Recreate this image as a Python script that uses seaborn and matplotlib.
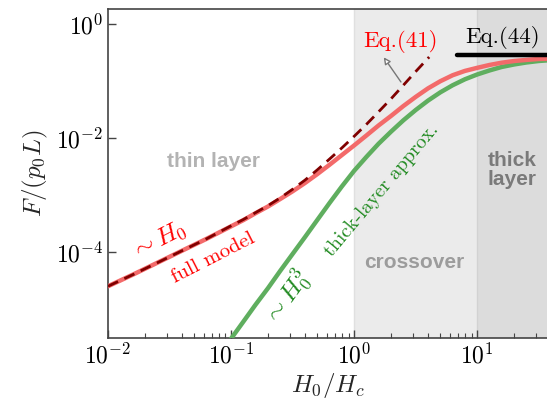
import matplotlib
import numpy as np
import pandas as pd
import seaborn as sns

matplotlib.use('Agg')
import matplotlib.pyplot as plt
from matplotlib import ticker

# --------------------------------------------------------------------
# values

h_full = [0.01, 0.0158, 0.0251, 0.0398, 0.0631,
          0.1, 0.126, 0.158, 0.2, 0.251, 0.316, 0.398, 0.501, 0.631, 0.794,
          1.0, 1.26, 1.58, 2.0, 2.51, 3.16, 3.98, 5.01, 6.31, 7.94,
          10.0, 12.6, 15.8, 20.0, 25.1, 31.6, 39.8]
f_full = [2.51e-5, 3.98e-5, 6.46e-5, 1.05e-4, 1.70e-4,
          2.82e-4, 3.63e-4, 4.79e-4, 6.31e-4, 8.51e-4, 1.16e-3, 1.62e-3, 2.32e-3, 3.39e-3, 5.01e-3,
          7.41e-3, 0.0111, 0.0166, 0.0245, 0.0363, 0.0525, 0.0741, 0.0989, 0.126, 0.150,
          0.170, 0.191, 0.209, 0.224, 0.234, 0.243, 0.245]

h_eq41 = [0.01, 0.0158, 0.0251, 0.0398, 0.0631,
          0.1, 0.126, 0.158, 0.2, 0.251, 0.316, 0.398, 0.501, 0.631, 0.794,
          1.0, 1.26, 1.58, 2.0, 2.51, 3.16, 4.07]
f_eq41 = [2.51e-5, 3.98e-5, 6.46e-5, 1.05e-4, 1.70e-4,
          2.88e-4, 3.72e-4, 4.90e-4, 6.53e-4, 8.91e-4, 1.26e-3, 1.82e-3, 2.75e-3, 4.27e-3, 6.68e-3,
          0.0107, 0.0174, 0.0288, 0.0490, 0.0841, 0.146, 0.263]

h_thick = [0.0794, 0.1, 0.126, 0.158, 0.2, 0.251, 0.316, 0.398, 0.501, 0.631, 0.794,
           1.0, 1.26, 1.58, 2.0, 2.51, 3.16, 3.98, 5.01, 6.31, 7.94,
           10.0, 12.6, 15.8, 20.0, 25.1, 31.6, 39.8]
f_thick = [1.51e-6, 3.02e-6, 6.03e-6, 1.19e-5, 2.34e-5, 4.68e-5, 9.23e-5, 1.82e-4, 3.63e-4, 7.24e-4, 1.41e-3,
           2.66e-3, 4.68e-3, 7.94e-3, 0.0130, 0.0204, 0.0309, 0.0452, 0.0631, 0.0841, 0.107,
           0.130, 0.153, 0.176, 0.195, 0.211, 0.224, 0.232]

h_eq44 = [6.8, 40.0]
f_eq44 = [0.29, 0.29]

# --------------------------------------------------------------------

sns.set_style('ticks')
plt.rcParams['mathtext.fontset'] = 'cm'
plt.rcParams['font.family'] = ['DejaVu Sans']

fig = plt.figure(figsize=(5.47, 4.01), dpi=100)
ax = fig.add_axes([0.1974, 0.157, 0.805, 0.8206])
ax.set_xscale('log')
ax.set_yscale('log')

ax.axvspan(1, 10, color='#ebebeb', lw=0, zorder=0)
ax.axvspan(10, 100, color='#dcdcdc', lw=0, zorder=0)
ax.axvline(1, color='#e0e0e0', lw=1, zorder=0)
ax.axvline(10, color='#d2d2d2', lw=1, zorder=0)

full = pd.DataFrame({'h': h_full, 'f': f_full})
eq41 = pd.DataFrame({'h': h_eq41, 'f': f_eq41})
thick = pd.DataFrame({'h': h_thick, 'f': f_thick})
eq44 = pd.DataFrame({'h': h_eq44, 'f': f_eq44})

sns.lineplot(data=thick, x='h', y='f', ax=ax, color='#5fae5f', lw=3.2, sort=False, zorder=3)
sns.lineplot(data=full, x='h', y='f', ax=ax, color='#f36a6a', lw=3.2, sort=False, zorder=3)
sns.lineplot(data=eq41, x='h', y='f', ax=ax, color='#800000', lw=2.0, sort=False,
             dashes=False, linestyle=(0, (4, 2.5)), zorder=4)
sns.lineplot(data=eq44, x='h', y='f', ax=ax, color='black', lw=3.2, sort=False, zorder=4)

ax.set_xlim(0.01, 37.8)
ax.set_ylim(3.1e-6, 1.83)

ax.xaxis.set_major_locator(ticker.LogLocator(base=10, numticks=10))
ax.xaxis.set_minor_locator(ticker.LogLocator(base=10, subs=np.arange(2, 10), numticks=20))
ax.yaxis.set_major_locator(ticker.FixedLocator([1e-4, 1e-2, 1]))
ax.yaxis.set_minor_locator(ticker.NullLocator())
fmt = ticker.FuncFormatter(lambda v, p: r'$10^{%d}$' % round(np.log10(v)))
ax.xaxis.set_major_formatter(fmt)
ax.yaxis.set_major_formatter(fmt)
ax.tick_params(which='both', direction='in', labelsize=17, colors='#444444', labelcolor='black')
ax.tick_params(which='major', length=6, width=1)
ax.tick_params(which='minor', length=3.5, width=0.8)
for s in ax.spines.values():
    s.set_color('#444444')
    s.set_linewidth(1.2)

ax.set_xlabel(r'$H_0/H_c$', fontsize=18, labelpad=2)
ax.set_ylabel(r'$F/(p_0L)$', fontsize=18, labelpad=4)

# region labels
ax.text(0.072, 3.8e-3, 'thin layer', color='#b3b3b3', fontsize=15, fontweight='bold',
        family='Liberation Sans', ha='center', va='center')
ax.text(3.06, 6.6e-5, 'crossover', color='#9c9c9c', fontsize=15, fontweight='bold',
        family='Liberation Sans', ha='center', va='center')
ax.text(19.2, 2.75e-3, 'thick\nlayer', color='#7a7a7a', fontsize=15, fontweight='bold',
        family='Liberation Sans', ha='center', va='center', linespacing=1.0)

# curve labels
ax.text(0.026, 1.6e-4, r'$\sim H_0$', color='red', fontsize=18, rotation=27,
        ha='center', va='center')
ax.text(0.072, 7.8e-5, 'full model', color='red', fontsize=15, family='cmr10',
        rotation=27, ha='center', va='center')
ax.text(0.29, 1.55e-5, r'$\sim H_0^3$', color='forestgreen', fontsize=18, rotation=54,
        ha='center', va='center')
ax.text(1.66, 1.2e-3, 'thick-layer approx.', color='forestgreen', fontsize=14.5, family='cmr10',
        rotation=50, ha='center', va='center')
ax.text(2.4, 0.5, 'Eq.(41)', color='red', fontsize=16.5, family='cmr10', ha='center', va='center')
ax.text(16.2, 0.57, 'Eq.(44)', color='black', fontsize=16.5, family='cmr10', ha='center', va='center')
ax.annotate('', xy=(1.74, 0.26), xytext=(2.4, 0.096),
            arrowprops=dict(arrowstyle='-|>', color='#777777', fc='white', lw=1,
                            shrinkA=0, shrinkB=0, mutation_scale=10))

fig.savefig('out.png', dpi=100)
